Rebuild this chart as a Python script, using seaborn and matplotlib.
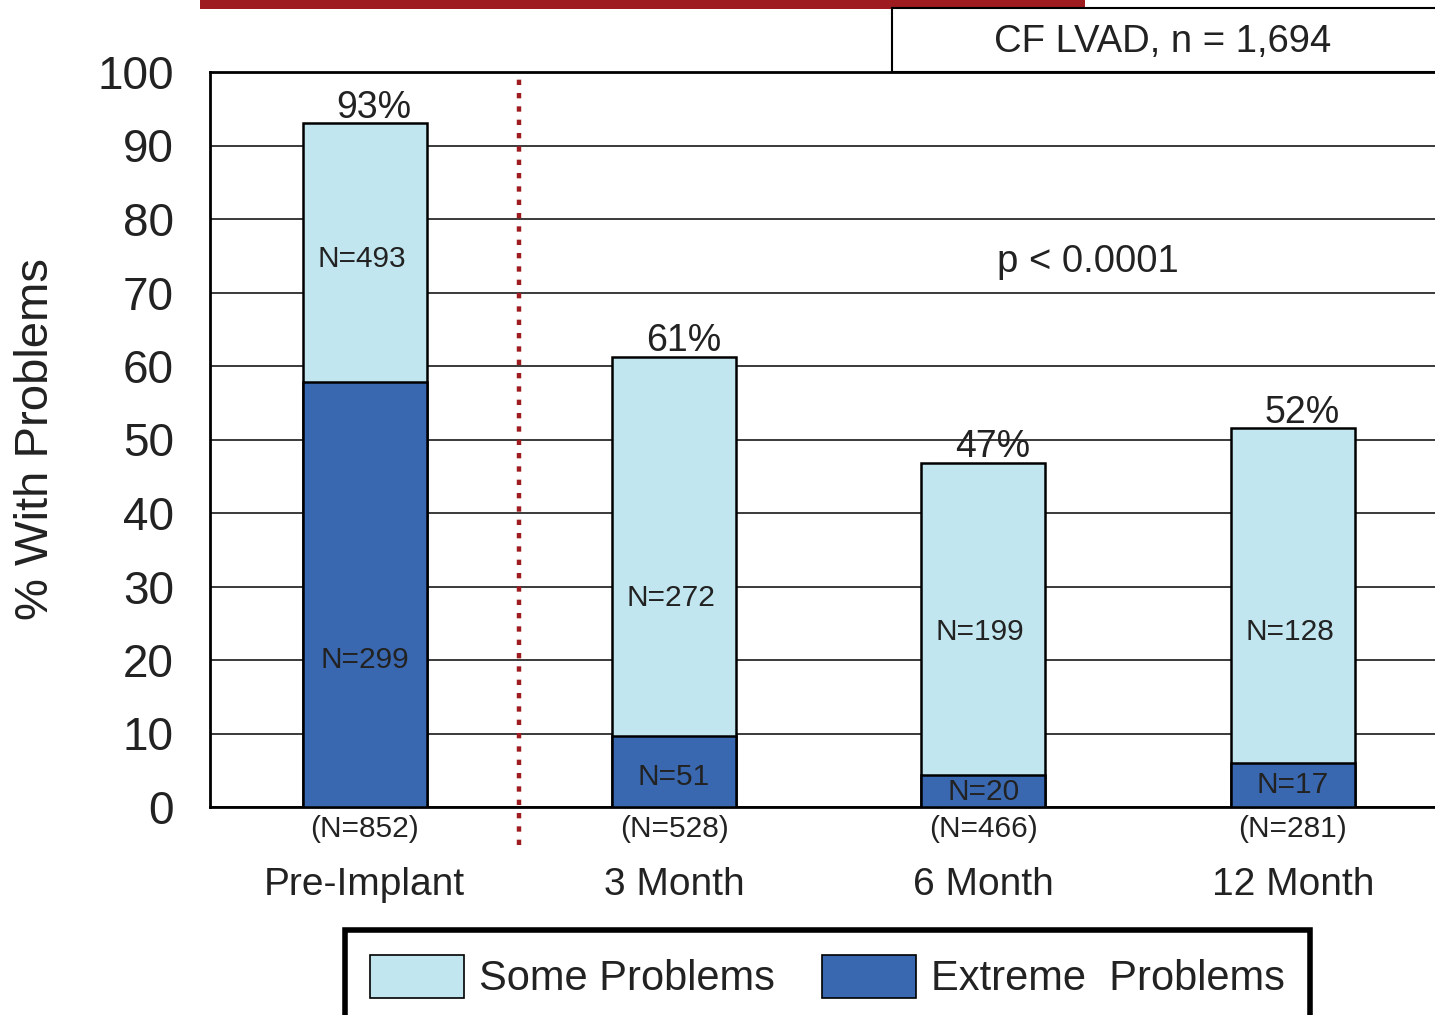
import numpy as np
import matplotlib.pyplot as plt
import seaborn as sns
from matplotlib.patches import Patch, Rectangle

# dados (% com problemas)
periodos = ["Pre-Implant", "3 Month", "6 Month", "12 Month"]
n_total = ["(N=852)", "(N=528)", "(N=466)", "(N=281)"]
total_pct = [93.0, 61.2, 46.8, 51.5]
extremo_pct = [57.8, 9.7, 4.3, 6.0]
rotulo_total = ["93%", "61%", "47%", "52%"]
n_some = ["N=493", "N=272", "N=199", "N=128"]
n_extremo = ["N=299", "N=51", "N=20", "N=17"]

# altura dos rótulos dentro das barras
y_some = [74.6, 28.4, 23.8, 23.8]
y_extremo = [20.0, 4.1, 2.0, 3.0]

cor_clara = "#C1E6EF"
cor_escura = "#3A68B0"
vermelho = "#9E1B20"
texto = "#222222"

sns.set_style("white")
plt.rcParams["font.family"] = ["Liberation Sans", "DejaVu Sans"]
plt.rcParams["text.color"] = texto

fig = plt.figure(figsize=(14.35, 10.15), dpi=100)
ax = fig.add_axes([210 / 1435, 1 - 807 / 1015, 1 - 210 / 1435, (807 - 72) / 1015])

sns.barplot(x=periodos, y=total_pct, color=cor_clara, saturation=1, width=0.4,
            edgecolor="black", linewidth=1.8, ax=ax, zorder=3)
sns.barplot(x=periodos, y=extremo_pct, color=cor_escura, saturation=1, width=0.4,
            edgecolor="black", linewidth=1.8, ax=ax, zorder=4)

ax.set_xlim(-0.5, 3.46)
ax.set_ylim(0, 100)
ax.set_yticks(np.arange(0, 101, 10))
ax.tick_params(axis="y", labelsize=33, length=12, width=2, pad=14, colors=texto, color="black")
ax.yaxis.grid(True, color="#3a3a3a", linewidth=1.4)
ax.set_axisbelow(True)

ax.set_xticks(range(len(periodos)))
ax.set_xticklabels(periodos)
ax.tick_params(axis="x", labelsize=28, length=0, pad=43, colors=texto)
ax.set_xticks([-0.5, 0.5, 1.5, 2.5], minor=True)
ax.tick_params(axis="x", which="minor", length=9, width=2, color="black", direction="out")

for lado in ["left", "bottom", "top"]:
    ax.spines[lado].set_visible(True)
    ax.spines[lado].set_color("black")
    ax.spines[lado].set_linewidth(2)
ax.spines["right"].set_visible(False)

ax.set_ylabel("% With Problems", fontsize=34, color=texto)
ax.yaxis.set_label_coords(-0.124, 0.5)

# rótulos
for i in range(len(periodos)):
    ax.text(i + 0.03, total_pct[i] - 0.3, rotulo_total[i], ha="center", va="bottom",
            fontsize=27, zorder=6)
    ax.text(i - 0.01, y_some[i], n_some[i], ha="center", va="center", fontsize=21.5, zorder=6)
    ax.text(i, y_extremo[i], n_extremo[i], ha="center", va="center", fontsize=21.5, zorder=6)
    ax.annotate(n_total[i], xy=(i, 0), xytext=(0, -6), textcoords="offset points",
                ha="center", va="top", fontsize=21.5, annotation_clip=False)

# linha pontilhada vermelha
ax.plot([0.5, 0.5], [-5.2, 99.2], color=vermelho, linewidth=3.2,
        linestyle=(0, (1.2, 1.8)), clip_on=False, zorder=5)

ax.text(2.338, 74.1, "p < 0.0001", ha="center", va="center", fontsize=27.5)

# faixa vermelha no topo e caixa CF LVAD
fig.patches.append(Rectangle((200 / 1435, 1 - 9 / 1015), (1085 - 200) / 1435, 9 / 1015,
                             transform=fig.transFigure, facecolor=vermelho, edgecolor="none"))
fig.patches.append(Rectangle((892 / 1435, 1 - 72 / 1015), (1440 - 892) / 1435, 64 / 1015,
                             transform=fig.transFigure, facecolor="white", edgecolor="black",
                             linewidth=1.5))
fig.text(1163 / 1435, 1 - 42 / 1015, "CF LVAD, n = 1,694", ha="center", va="center", fontsize=27.5)

handles = [Patch(facecolor=cor_clara, edgecolor="black", linewidth=1.2),
           Patch(facecolor=cor_escura, edgecolor="black", linewidth=1.2)]
leg = fig.legend(handles, ["Some Problems", "Extreme  Problems"], loc="upper center",
                 bbox_to_anchor=(827.5 / 1435, 1 - 930 / 1015), ncol=2, fontsize=30,
                 frameon=True, fancybox=False, framealpha=1, handlelength=2.25,
                 handleheight=1.2, handletextpad=0.35, columnspacing=1.15,
                 borderpad=0.6, borderaxespad=0)
leg.get_frame().set_edgecolor("black")
leg.get_frame().set_linewidth(4)

plt.savefig("out.png", dpi=100)
